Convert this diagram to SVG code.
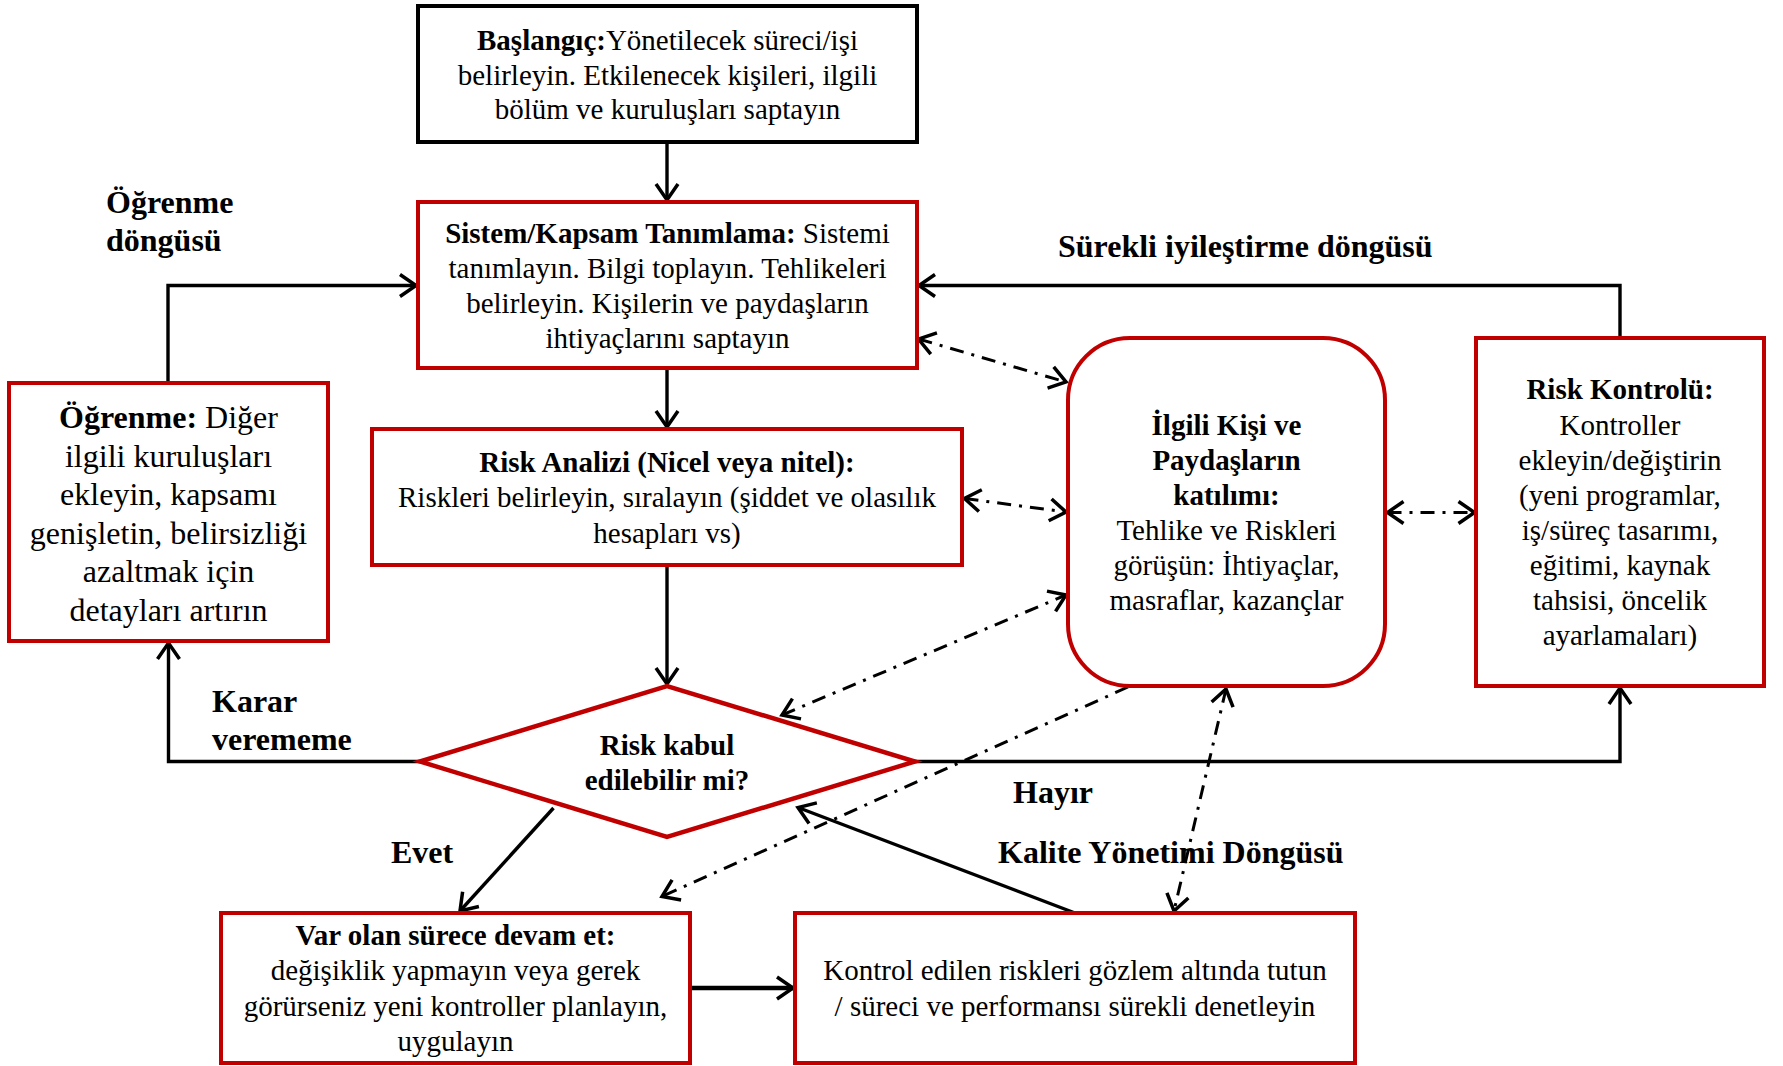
<svg xmlns="http://www.w3.org/2000/svg" width="1783" height="1066" viewBox="0 0 1783 1066">
  <defs>
    <style>
      text { font-family: "Liberation Serif", "Times New Roman", serif; font-size: 29px; fill: #000; text-anchor: middle; }
      .b { font-weight: bold; }
      .big { font-size: 32px; }
      .lbl { font-size: 32px; font-weight: bold; text-anchor: start; }
      .box { fill: #fff; stroke: #C00000; stroke-width: 4; }
      .start { fill: #fff; stroke: #000; stroke-width: 4; }
      .flow { fill: none; stroke: #000; stroke-width: 3.4; marker-end: url(#ah); }
      .link { fill: none; stroke: #000; stroke-width: 3; stroke-dasharray: 14 8 3 8; }
      .both { marker-start: url(#ah); marker-end: url(#ah); }
      .one { marker-end: url(#ah); }
    </style>
    <marker id="ah" viewBox="-22 -15 26 30" refX="0" refY="0" markerWidth="26" markerHeight="30" markerUnits="userSpaceOnUse" orient="auto-start-reverse">
      <path d="M-16,-11 L0,0 L-16,11" fill="none" stroke="#000" stroke-width="3.5" stroke-linejoin="miter"/>
    </marker>
  </defs>

  <!-- connectors -->
  <g id="connectors">
    <path class="flow" d="M667,142 V200"/>
    <path class="flow" d="M667,368 V427"/>
    <path class="flow" d="M667,565 V684"/>
    <path class="flow" d="M168,383 V285.5 H416"/>
    <path class="flow" d="M1620,338 V285.5 H919"/>
    <path class="flow" d="M420,761.5 H168.5 V643"/>
    <path class="flow" d="M915,761.5 H1620 V688"/>
    <path class="flow" d="M553.5,808 L460,911"/>
    <path class="flow" d="M1075,913 L798,807.5"/>
    <path class="flow" d="M690,988 H793" style="stroke-width:4.5"/>
    <path class="link both" d="M918.5,339 L1066,382"/>
    <path class="link both" d="M964.5,498.5 L1066,512"/>
    <path class="link both" d="M782,715 L1066,595"/>
    <path class="link both" d="M1387.5,512.5 L1474.5,512.5"/>
    <path class="link both" d="M1226,689 L1174,911"/>
    <path class="link one" d="M1128,687 L662,896.5"/>
  </g>

  <!-- start box -->
  <g id="node-start">
    <rect class="start" x="418" y="6" width="499" height="136"/>
    <text x="667.5" y="50"><tspan class="b">Başlangıç:</tspan>Yönetilecek süreci/işi</text>
    <text x="667.5" y="84.5">belirleyin. Etkilenecek kişileri, ilgili</text>
    <text x="667.5" y="119">bölüm ve kuruluşları saptayın</text>
  </g>

  <!-- system / scope -->
  <g id="node-scope">
    <rect class="box" x="418" y="202" width="499" height="166"/>
    <text x="667.5" y="243"><tspan class="b">Sistem/Kapsam Tanımlama:</tspan> Sistemi</text>
    <text x="667.5" y="278">tanımlayın. Bilgi toplayın. Tehlikeleri</text>
    <text x="667.5" y="313">belirleyin. Kişilerin ve paydaşların</text>
    <text x="667.5" y="348">ihtiyaçlarını saptayın</text>
  </g>

  <!-- risk analysis -->
  <g id="node-analysis">
    <rect class="box" x="372" y="429" width="590" height="136"/>
    <text x="667" y="472" class="b">Risk Analizi (Nicel veya nitel):</text>
    <text x="667" y="507">Riskleri belirleyin, sıralayın (şiddet ve olasılık</text>
    <text x="667" y="542.5">hesapları vs)</text>
  </g>

  <!-- learning -->
  <g id="node-learning">
    <rect class="box" x="9" y="383" width="319" height="258"/>
    <text x="168.5" y="428" class="big"><tspan class="b">Öğrenme:</tspan> Diğer</text>
    <text x="168.5" y="466.5" class="big">ilgili kuruluşları</text>
    <text x="168.5" y="505" class="big">ekleyin, kapsamı</text>
    <text x="168.5" y="543.5" class="big">genişletin, belirsizliği</text>
    <text x="168.5" y="582" class="big">azaltmak için</text>
    <text x="168.5" y="620.5" class="big">detayları artırın</text>
  </g>

  <!-- decision -->
  <g id="node-decision">
    <polygon points="420,761.5 667,686 915,761.5 667,837" fill="#fff" stroke="#C00000" stroke-width="4.5"/>
    <text x="667" y="755" class="b">Risk kabul</text>
    <text x="667" y="790" class="b">edilebilir mi?</text>
  </g>

  <!-- stakeholders -->
  <g id="node-stakeholders">
    <rect class="box" x="1068" y="338" width="317" height="348" rx="62" ry="62"/>
    <text x="1226.5" y="435" class="b">İlgili Kişi ve</text>
    <text x="1226.5" y="470" class="b">Paydaşların</text>
    <text x="1226.5" y="505" class="b">katılımı:</text>
    <text x="1226.5" y="540">Tehlike ve Riskleri</text>
    <text x="1226.5" y="575">görüşün: İhtiyaçlar,</text>
    <text x="1226.5" y="610">masraflar, kazançlar</text>
  </g>

  <!-- risk control -->
  <g id="node-control">
    <rect class="box" x="1476" y="338" width="288" height="348"/>
    <text x="1620" y="399" class="b">Risk Kontrolü:</text>
    <text x="1620" y="435">Kontroller</text>
    <text x="1620" y="470">ekleyin/değiştirin</text>
    <text x="1620" y="505">(yeni programlar,</text>
    <text x="1620" y="540">iş/süreç tasarımı,</text>
    <text x="1620" y="575">eğitimi, kaynak</text>
    <text x="1620" y="610">tahsisi, öncelik</text>
    <text x="1620" y="645">ayarlamaları)</text>
  </g>

  <!-- continue process -->
  <g id="node-continue">
    <rect class="box" x="221" y="913" width="469" height="150"/>
    <text x="455.5" y="945" class="b">Var olan sürece devam et:</text>
    <text x="455.5" y="980">değişiklik yapmayın veya gerek</text>
    <text x="455.5" y="1016">görürseniz yeni kontroller planlayın,</text>
    <text x="455.5" y="1051">uygulayın</text>
  </g>

  <!-- monitoring -->
  <g id="node-monitor">
    <rect class="box" x="795" y="913" width="560" height="150"/>
    <text x="1075" y="980">Kontrol edilen riskleri gözlem altında tutun</text>
    <text x="1075" y="1016">/ süreci ve performansı sürekli denetleyin</text>
  </g>

  <!-- loop and branch labels -->
  <g id="labels">
    <text class="lbl" x="106" y="212.5">Öğrenme</text>
    <text class="lbl" x="106" y="251">döngüsü</text>
    <text class="lbl" x="1058" y="257">Sürekli iyileştirme döngüsü</text>
    <text class="lbl" x="212" y="711.5">Karar</text>
    <text class="lbl" x="212" y="750">verememe</text>
    <text class="lbl" x="391" y="863">Evet</text>
    <text class="lbl" x="1013" y="802.5">Hayır</text>
    <text class="lbl" x="998" y="862.5">Kalite Yönetimi Döngüsü</text>
  </g>
</svg>
